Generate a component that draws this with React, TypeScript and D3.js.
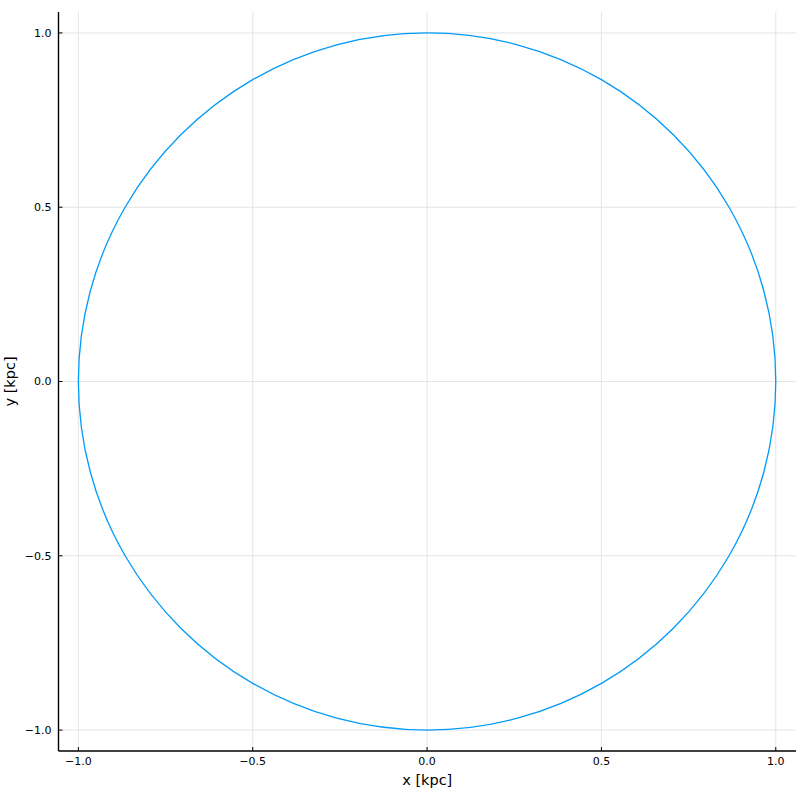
import React from "react"
import * as d3 from "d3"

// orbit points (x, y), in kpc
const orbitX = [1.0, 0.966, 0.866, 0.707, 0.5, 0.259, 0.0, -0.259, -0.5, -0.707, -0.866, -0.966,
    -1.0, -0.966, -0.866, -0.707, -0.5, -0.259, 0.0, 0.259, 0.5, 0.707, 0.866, 0.966]
const orbitY = [0.0, 0.259, 0.5, 0.707, 0.866, 0.966, 1.0, 0.966, 0.866, 0.707, 0.5, 0.259,
    0.0, -0.259, -0.5, -0.707, -0.866, -0.966, -1.0, -0.966, -0.866, -0.707, -0.5, -0.259]
const xTicks = [-1.0, -0.5, 0.0, 0.5, 1.0]
const yTicks = [-1.0, -0.5, 0.0, 0.5, 1.0]

const width = 800
const height = 800
const plot = {left: 58.5, right: 796, top: 12, bottom: 751}

const App = () => {
    const xScale = d3.scaleLinear().domain([-1.057, 1.058]).range([plot.left, plot.right])
    const yScale = d3.scaleLinear().domain([-1.06, 1.06]).range([plot.bottom, plot.top])
    const fmt = d3.format(".1f")

    const points: Array<[number, number]> = orbitX.map((x, i) => [x, orbitY[i]])
    const line = d3.line<[number, number]>()
        .x(d => xScale(d[0]))
        .y(d => yScale(d[1]))
        .curve(d3.curveCatmullRomClosed.alpha(0.5))

    const font = "'DejaVu Sans', sans-serif"

    return (
        <svg width={width} height={height} style={{position: "absolute", left: 0, top: 0}}>
            <rect width={width} height={height} fill="#fff"/>
            {/* grid */}
            {xTicks.map(t => (
                <line key={"gx" + t} x1={xScale(t)} x2={xScale(t)} y1={plot.top} y2={plot.bottom}
                      stroke="#e5e5e5" strokeWidth={1}/>
            ))}
            {yTicks.map(t => (
                <line key={"gy" + t} x1={plot.left} x2={plot.right} y1={yScale(t)} y2={yScale(t)}
                      stroke="#e5e5e5" strokeWidth={1}/>
            ))}
            {/* orbit */}
            <path d={line(points) || ""} fill="none" stroke="#009af9" strokeWidth={1.3}/>
            {/* axes */}
            <line x1={plot.left} x2={plot.right} y1={plot.bottom} y2={plot.bottom} stroke="#000" strokeWidth={1.4}/>
            <line x1={plot.left} x2={plot.left} y1={plot.top} y2={plot.bottom} stroke="#000" strokeWidth={1.4}/>
            {xTicks.map(t => (
                <g key={"tx" + t}>
                    <line x1={xScale(t)} x2={xScale(t)} y1={plot.bottom} y2={plot.bottom - 4} stroke="#000"/>
                    <text x={xScale(t)} y={plot.bottom + 14} fontSize={11} fontFamily={font}
                          textAnchor="middle" fill="#000">{fmt(t)}</text>
                </g>
            ))}
            {yTicks.map(t => (
                <g key={"ty" + t}>
                    <line x1={plot.left} x2={plot.left + 4} y1={yScale(t)} y2={yScale(t)} stroke="#000"/>
                    <text x={plot.left - 7} y={yScale(t)} dy="0.35em" fontSize={11} fontFamily={font}
                          textAnchor="end" fill="#000">{fmt(t)}</text>
                </g>
            ))}
            <text x={(plot.left + plot.right) / 2} y={785} fontSize={14.5} fontFamily={font}
                  textAnchor="middle" fill="#000">x [kpc]</text>
            <text transform={`translate(15,${(plot.top + plot.bottom) / 2}) rotate(-90)`} fontSize={14.5}
                  fontFamily={font} textAnchor="middle" fill="#000">y [kpc]</text>
        </svg>
    )
}

export default App
